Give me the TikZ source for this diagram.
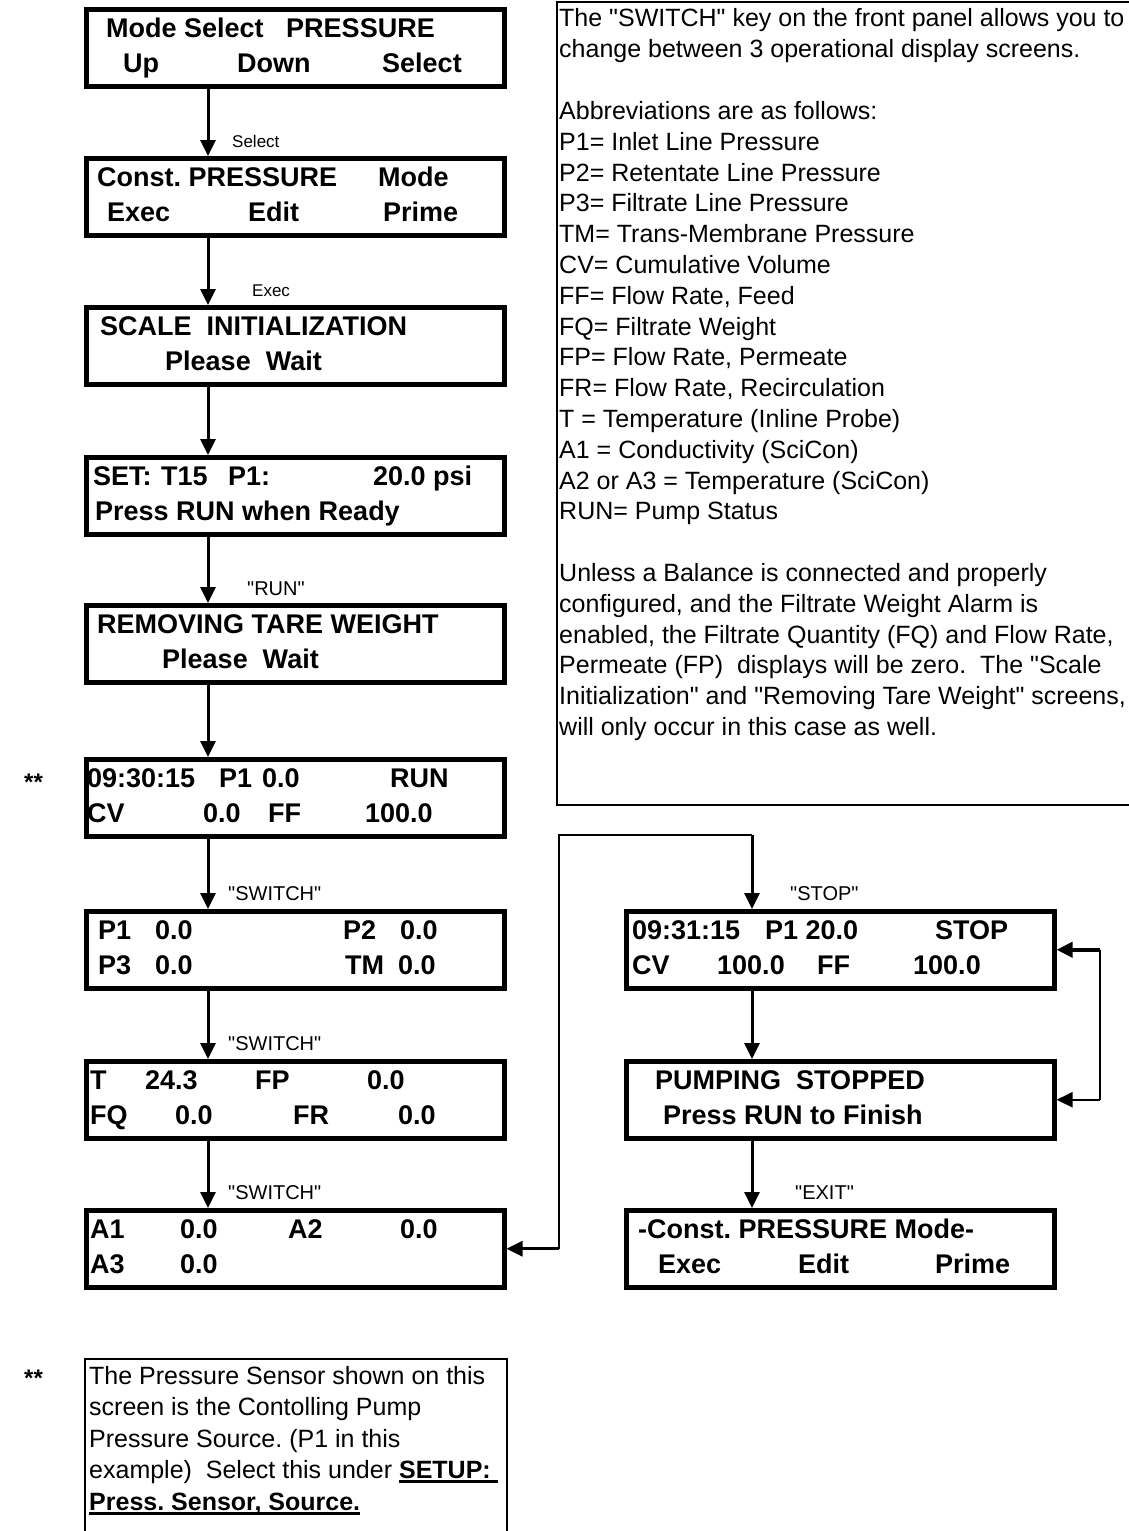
\documentclass[tikz,border=0pt]{standalone}
\usepackage{fontspec}
\setmainfont{Liberation Sans}
\newfontfamily\lsans{Liberation Sans}
\usetikzlibrary{arrows.meta}
\frenchspacing
\newcommand\myul[1]{\setbox0\hbox{#1}\rlap{\rule[-4.5pt]{\wd0}{2.6pt}}\box0}
\begin{document}
\begin{tikzpicture}[x=1pt,y=-1pt,
  lcd/.style={draw,line width=4.5pt,rectangle,minimum width=418pt,minimum height=77pt,anchor=north west,inner sep=0pt},
  bt/.style={anchor=base west,inner sep=0pt,font=\lsans\fontsize{27}{30}\selectfont\bfseries},
  rt/.style={anchor=base west,inner sep=0pt,font=\lsans\fontsize{25}{30}\selectfont},
  lbl/.style={anchor=base west,inner sep=0pt,font=\lsans\fontsize{20}{24}\selectfont},
  lbls/.style={anchor=base west,inner sep=0pt,font=\lsans\fontsize{17}{20}\selectfont},
  star/.style={anchor=base west,inner sep=0pt,font=\lsans\fontsize{24}{30}\selectfont\bfseries},
  flow/.style={line width=3pt,-{Triangle[length=16pt,width=15pt]}},
  thinline/.style={line width=1.3pt},
  note/.style={draw,line width=1.5pt,rectangle,anchor=north west,inner sep=0pt}]
\useasboundingbox (0,0) rectangle (1128,1531);
\fill[white] (0,0) rectangle (1128,1531);

% ---------- left column boxes ----------
\node[lcd] (b1) at (84,7) {};
\node[lcd] (b2) at (84,156) {};
\node[lcd] (b3) at (84,305) {};
\node[lcd] (b4) at (84,455) {};
\node[lcd] (b5) at (84,603) {};
\node[lcd] (b6) at (84,757) {};
\node[lcd] (b7) at (84,909) {};
\node[lcd] (b8) at (84,1059) {};
\node[lcd] (b9) at (84,1208) {};
% ---------- right column boxes ----------
\node[lcd,minimum width=428pt] (s1) at (624,909) {};
\node[lcd,minimum width=428pt] (s2) at (624,1059) {};
\node[lcd,minimum width=428pt] (s3) at (624,1208) {};

% ---------- box texts ----------
\node[bt] (t1a) at (106,37) {Mode Select\ \ \ PRESSURE};
\node[bt] (t1c) at (123,72) {Up};
\node[bt] (t1d) at (237,72) {Down};
\node[bt] (t1e) at (382,72) {Select};

\node[bt] (t2a) at (97,186) {Const. PRESSURE};
\node[bt] (t2b) at (378,186) {Mode};
\node[bt] (t2c) at (107,221) {Exec};
\node[bt] (t2d) at (248,221) {Edit};
\node[bt] (t2e) at (383,221) {Prime};

\node[bt] (t3a) at (100,335) {SCALE\ \ INITIALIZATION};
\node[bt] (t3c) at (165,370) {Please\ \ Wait};

\node[bt] (t4a) at (93,485) {SET:};
\node[bt] (t4b) at (161,485) {T15};
\node[bt] (t4c) at (228,485) {P1:};
\node[bt] (t4d) at (373,485) {20.0 psi};
\node[bt] (t4e) at (95,520) {Press RUN when Ready};

\node[bt] (t5a) at (97,633) {REMOVING TARE WEIGHT};
\node[bt] (t5b) at (162,668) {Please\ \ Wait};

\node[bt] (t6a) at (87,787) {09:30:15};
\node[bt] (t6b) at (219,787) {P1};
\node[bt] (t6c) at (262,787) {0.0};
\node[bt] (t6d) at (390,787) {RUN};
\node[bt] (t6e) at (87,822) {CV};
\node[bt] (t6f) at (203,822) {0.0};
\node[bt] (t6g) at (268,822) {FF};
\node[bt] (t6h) at (365,822) {100.0};

\node[bt] (t7a) at (98,939) {P1};
\node[bt] (t7b) at (155,939) {0.0};
\node[bt] (t7c) at (343,939) {P2};
\node[bt] (t7d) at (400,939) {0.0};
\node[bt] (t7e) at (98,974) {P3};
\node[bt] (t7f) at (155,974) {0.0};
\node[bt] (t7g) at (345,974) {TM};
\node[bt] (t7h) at (398,974) {0.0};

\node[bt] (t8a) at (90,1089) {T};
\node[bt] (t8b) at (145,1089) {24.3};
\node[bt] (t8c) at (255,1089) {FP};
\node[bt] (t8d) at (367,1089) {0.0};
\node[bt] (t8e) at (90,1124) {FQ};
\node[bt] (t8f) at (175,1124) {0.0};
\node[bt] (t8g) at (293,1124) {FR};
\node[bt] (t8h) at (398,1124) {0.0};

\node[bt] (t9a) at (90,1238) {A1};
\node[bt] (t9b) at (180,1238) {0.0};
\node[bt] (t9c) at (288,1238) {A2};
\node[bt] (t9d) at (400,1238) {0.0};
\node[bt] (t9e) at (90,1273) {A3};
\node[bt] (t9f) at (180,1273) {0.0};

\node[bt] (u1a) at (632,939) {09:31:15};
\node[bt] (u1b) at (765,939) {P1 20.0};
\node[bt] (u1c) at (935,939) {STOP};
\node[bt] (u1d) at (632,974) {CV};
\node[bt] (u1e) at (717,974) {100.0};
\node[bt] (u1f) at (817,974) {FF};
\node[bt] (u1g) at (913,974) {100.0};

\node[bt] (u2a) at (655,1089) {PUMPING\ \ STOPPED};
\node[bt] (u2b) at (663,1124) {Press RUN to Finish};

\node[bt] (u3a) at (638,1238) {-Const. PRESSURE Mode-};
\node[bt] (u3b) at (658,1273) {Exec};
\node[bt] (u3c) at (798,1273) {Edit};
\node[bt] (u3d) at (935,1273) {Prime};

% ---------- connectors ----------
\coordinate (colL) at (208,0);
\coordinate (colR) at (752,0);
\draw[flow] (b1.south -| colL) -- (b2.north -| colL);
\draw[flow] (b2.south -| colL) -- (b3.north -| colL);
\draw[flow] (b3.south -| colL) -- (b4.north -| colL);
\draw[flow] (b4.south -| colL) -- (b5.north -| colL);
\draw[flow] (b5.south -| colL) -- (b6.north -| colL);
\draw[flow] (b6.south -| colL) -- (b7.north -| colL);
\draw[flow] (b7.south -| colL) -- (b8.north -| colL);
\draw[flow] (b8.south -| colL) -- (b9.north -| colL);
\draw[flow] (s1.south -| colR) -- (s2.north -| colR);
\draw[flow] (s2.south -| colR) -- (s3.north -| colR);

\coordinate (jA) at (559,835);
\coordinate (jB) at (752,835);
\draw[flow] (jB) -- (s1.north -| colR);
\draw[thinline] (jB) -- (jA) -- (jA |- b9.east);
\draw[flow] (jA |- b9.east) -- (b9.east);

\coordinate (kx) at (1100,0);
\draw[thinline] (s1.east -| kx) -- (s2.east -| kx);
\draw[flow,line width=4pt] (s1.east -| kx) -- (s1.east);
\draw[flow,line width=2pt] (s2.east -| kx) -- (s2.east);

% ---------- arrow labels ----------
\node[lbls] (l1) at (232,147) {Select};
\node[lbls] (l2) at (252,296) {Exec};
\node[lbl] (l3) at (247,595) {"RUN"};
\node[lbl] (l4) at (228,900) {"SWITCH"};
\node[lbl] (l5) at (228,1050) {"SWITCH"};
\node[lbl] (l6) at (228,1199) {"SWITCH"};
\node[lbl] (l7) at (790,900) {"STOP"};
\node[lbl] (l8) at (795,1199) {"EXIT"};

\node[star] (st1) at (24,790) {**};
\node[star] (st2) at (24,1386) {**};

% ---------- information box ----------
\node[note,minimum width=620pt,minimum height=803pt] (info) at (556,1) {};
\foreach \i/\t in {0/{The "SWITCH" key on the front panel allows you to},
  1/{change between 3 operational display screens.},
  3/{Abbreviations are as follows:},
  4/{P1= Inlet Line Pressure},
  5/{P2= Retentate Line Pressure},
  6/{P3= Filtrate Line Pressure},
  7/{TM= Trans-Membrane Pressure},
  8/{CV= Cumulative Volume},
  9/{FF= Flow Rate, Feed},
  10/{FQ= Filtrate Weight},
  11/{FP= Flow Rate, Permeate},
  12/{FR= Flow Rate, Recirculation},
  13/{T = Temperature (Inline Probe)},
  14/{A1 = Conductivity (SciCon)},
  15/{A2 or A3 = Temperature (SciCon)},
  16/{RUN= Pump Status},
  18/{Unless a Balance is connected and properly},
  19/{configured, and the Filtrate Weight Alarm is},
  20/{enabled, the Filtrate Quantity (FQ) and Flow Rate,},
  21/{Permeate (FP)\ \ displays will be zero.\ \ The "Scale},
  22/{Initialization" and "Removing Tare Weight" screens,},
  23/{will only occur in this case as well.}}
  \node[rt] (info\i) at (559,{27+30.8*\i}) {\t};

% ---------- note box ----------
\node[note,minimum width=422pt,minimum height=220pt] (nb) at (84,1358) {};
\node[rt] (n0) at (89,1384) {The Pressure Sensor shown on this};
\node[rt] (n1) at (89,1415.5) {screen is the Contolling Pump};
\node[rt] (n2) at (89,1447) {Pressure Source. (P1 in this};
\node[rt] (n3) at (89,1478.5) {example)\ \ Select this under \textbf{\myul{SETUP:\ }}};
\node[rt] (n4) at (89,1510) {\textbf{\myul{Press. Sensor, Source.}}};
\end{tikzpicture}
\end{document}
